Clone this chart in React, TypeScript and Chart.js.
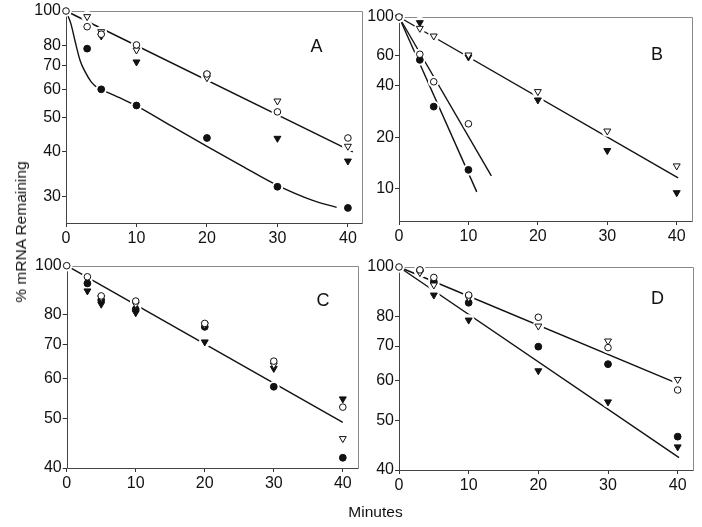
import React, { useEffect, useRef } from "react";
import { Chart, registerables } from "chart.js";

Chart.register(...registerables);

// ---------- data ----------
const times = [0, 3, 5, 10, 20, 30, 40];
const xTicks = [0, 10, 20, 30, 40];

// Panel A
const aTicksY = [100, 80, 70, 60, 50, 40, 30];
const aOpenCircle = [100, 90.3, 86, 80.2, 66.4, 51.9, 43.8];
const aOpenTri = [null, 96.4, 87.4, 77.6, 64.8, 55.7, 41.5];
const aFilledTri = [null, null, 85, 71.8, 66, 43.7, 37.7];
const aFilledCircle = [null, 78.3, 60.1, 54.1, 43.8, 31.9, 27.8];
const aLineUpper = [{ x: 0, y: 100 }, { x: 40.7, y: 40 }];
const aCurveLower = [
  { x: 0, y: 100 }, { x: 0.7, y: 92 }, { x: 1.3, y: 82 }, { x: 2, y: 72.5 },
  { x: 2.7, y: 67.4 }, { x: 3.6, y: 63 }, { x: 4.6, y: 60.5 }, { x: 5, y: 60 },
  { x: 7.5, y: 57 }, { x: 10, y: 54 }, { x: 15, y: 47.3 }, { x: 20, y: 41.5 },
  { x: 25, y: 36.5 }, { x: 30, y: 32.2 }, { x: 35, y: 29.2 }, { x: 38.4, y: 27.9 },
];

// Panel B
const bTicksY = [100, 60, 40, 20, 10];
const bOpenCircle = [100, 60.7, 42, 23.9, null, null, null];
const bFilledCircle = [null, 56.3, 30.1, 12.9, null, null, null];
const bOpenTri = [100, 85.9, 77.5, 60.1, 36.8, 21.7, 13.6];
const bFilledTri = [null, 92.7, null, 58.5, 32.9, 16.7, 9.5];
const bLineTri = [{ x: 0, y: 100 }, { x: 40.2, y: 11.6 }];
const bLineFilledCircle = [{ x: 0, y: 100 }, { x: 11.2, y: 9.6 }];
const bLineOpenCircle = [{ x: 0, y: 100 }, { x: 13.3, y: 11.9 }];

// Panel C
const cTicksY = [100, 80, 70, 60, 50, 40];
const cOpenCircle = [100, 95.1, 87.2, 85.2, 77.0, 64.9, 52.7];
const cOpenTri = [null, null, 86.5, 84, 76.5, 63.8, 45.7];
const cFilledTri = [null, 89.2, 84, 80.8, 70.8, 62.8, 54.7];
const cFilledCircle = [null, 92.3, 85.6, 82.1, 75.8, 57.8, 41.9];
const cLine = [{ x: 0, y: 100 }, { x: 40, y: 49.2 }];

// Panel D
const dTicksY = [100, 80, 70, 60, 50, 40];
const dOpenCircle = [100, 98.7, 95.4, 88.1, 79.7, 69.5, 57.4];
const dOpenTri = [null, 97.5, 92.2, 87, 76.6, 71.6, 60.2];
const dFilledCircle = [null, 98.5, 93.6, 85.1, 69.8, 64.5, 46.5];
const dFilledTri = [null, null, 88.1, 78.7, 62.6, 54.4, 44.4];
const dLineUpper = [{ x: 0, y: 100 }, { x: 39.6, y: 59.4 }];
const dLineLower = [{ x: 0, y: 100 }, { x: 40.2, y: 42.3 }];

// ---------- styles ----------
const FONT = '"Liberation Sans", Arial, Helvetica, sans-serif';

type Kind = "oc" | "ot" | "fc" | "ft";
const markerStyle: Record<Kind, any> = {
  oc: { pointStyle: "circle", pointRadius: 3.3, pointBackgroundColor: "#fff", pointBorderColor: "#111", pointBorderWidth: 1, pointRotation: 0, order: 0 },
  ot: { pointStyle: "triangle", pointRadius: 4, pointBackgroundColor: "#fff", pointBorderColor: "#111", pointBorderWidth: 1, pointRotation: 180, order: 1 },
  fc: { pointStyle: "circle", pointRadius: 3.4, pointBackgroundColor: "#111", pointBorderColor: "#111", pointBorderWidth: 1, pointRotation: 0, order: 2 },
  ft: { pointStyle: "triangle", pointRadius: 4, pointBackgroundColor: "#111", pointBorderColor: "#111", pointBorderWidth: 1, pointRotation: 180, order: 3 },
};

type Panel = {
  key: string;
  left: number; top: number; width: number; height: number;
  yW: number; padTop: number; padRight: number; xH: number;
  yMin: number; yMax: number; xMax: number; yTicks: number[];
  series: { kind: Kind; values: (number | null)[] }[];
  lines: { pts: { x: number; y: number }[]; curved?: boolean }[];
};

const panels: Panel[] = [
  {
    key: "A", left: 20, top: 0, width: 350, height: 250,
    yW: 46, padTop: 11, padRight: 8, xH: 27,
    yMin: 25.2, yMax: 100, xMax: 42, yTicks: aTicksY,
    series: [
      { kind: "ft", values: aFilledTri }, { kind: "fc", values: aFilledCircle },
      { kind: "ot", values: aOpenTri }, { kind: "oc", values: aOpenCircle },
    ],
    lines: [{ pts: aLineUpper }, { pts: aCurveLower, curved: true }],
  },
  {
    key: "B", left: 360, top: 0, width: 342, height: 250,
    yW: 39, padTop: 17, padRight: 10, xH: 29,
    yMin: 6.5, yMax: 100, xMax: 42.2, yTicks: bTicksY,
    series: [
      { kind: "ft", values: bFilledTri }, { kind: "fc", values: bFilledCircle },
      { kind: "ot", values: bOpenTri }, { kind: "oc", values: bOpenCircle },
    ],
    lines: [{ pts: bLineTri }, { pts: bLineFilledCircle }, { pts: bLineOpenCircle }],
  },
  {
    key: "C", left: 20, top: 250, width: 350, height: 250,
    yW: 46.7, padTop: 15.7, padRight: 12, xH: 32,
    yMin: 40, yMax: 100, xMax: 42.2, yTicks: cTicksY,
    series: [
      { kind: "ft", values: cFilledTri }, { kind: "fc", values: cFilledCircle },
      { kind: "ot", values: cOpenTri }, { kind: "oc", values: cOpenCircle },
    ],
    lines: [{ pts: cLine }],
  },
  {
    key: "D", left: 360, top: 250, width: 342, height: 250,
    yW: 39, padTop: 17, padRight: 9, xH: 30,
    yMin: 40, yMax: 100, xMax: 42.2, yTicks: dTicksY,
    series: [
      { kind: "ft", values: dFilledTri }, { kind: "fc", values: dFilledCircle },
      { kind: "ot", values: dOpenTri }, { kind: "oc", values: dOpenCircle },
    ],
    lines: [{ pts: dLineUpper }, { pts: dLineLower }],
  },
];

const framePlugin = {
  id: "frame",
  beforeDatasetsDraw(chart: any) {
    const { ctx, chartArea: a } = chart;
    ctx.save();
    ctx.lineWidth = 1;
    const l = Math.round(a.left) + 0.5;
    const t = Math.round(a.top) + 0.5;
    const r = Math.round(a.right) + 0.5;
    const b = Math.round(a.bottom) + 0.5;
    ctx.strokeStyle = "#8a8a8a";
    ctx.beginPath();
    ctx.moveTo(l, t);
    ctx.lineTo(r, t);
    ctx.lineTo(r, b);
    ctx.stroke();
    ctx.strokeStyle = "#444";
    ctx.beginPath();
    ctx.moveTo(l, t);
    ctx.lineTo(l, b);
    ctx.lineTo(r, b);
    ctx.stroke();
    ctx.restore();
  },
};

function toPoints(values: (number | null)[]) {
  const out: { x: number; y: number }[] = [];
  values.forEach((v, i) => {
    if (v != null) out.push({ x: times[i], y: v });
  });
  return out;
}

function PanelChart({ p }: { p: Panel }) {
  const ref = useRef<HTMLCanvasElement | null>(null);
  useEffect(() => {
    if (!ref.current) return;
    const datasets: any[] = [];
    p.series.forEach((s) => {
      datasets.push({
        data: toPoints(s.values),
        showLine: false,
        clip: false,
        ...markerStyle[s.kind],
      });
    });
    p.series.forEach((s) => {
      datasets.push({
        data: toPoints(s.values),
        showLine: false,
        clip: false,
        pointStyle: "circle",
        pointRadius: 5.8,
        pointBackgroundColor: "#fff",
        pointBorderWidth: 0,
        order: 10,
      });
    });
    p.lines.forEach((ln) => {
      datasets.push({
        data: ln.pts,
        showLine: true,
        clip: false,
        borderColor: "#111",
        borderWidth: 1.4,
        pointRadius: 0,
        tension: ln.curved ? 0.4 : 0,
        cubicInterpolationMode: ln.curved ? "monotone" : "default",
        order: 20,
      });
    });
    const chart = new Chart(ref.current, {
      type: "scatter",
      data: { datasets },
      options: {
        animation: false,
        responsive: false,
        events: [],
        layout: { padding: { top: p.padTop, right: p.padRight, left: 0, bottom: 0 } },
        plugins: { legend: { display: false }, tooltip: { enabled: false } },
        scales: {
          x: {
            type: "linear",
            min: 0,
            max: p.xMax,
            border: { display: false },
            grid: { drawOnChartArea: false, drawTicks: true, tickLength: 4, tickColor: "#333" },
            ticks: { color: "#111", font: { family: FONT, size: 16 }, padding: 2, maxRotation: 0, callback: (v: any) => String(v) },
            afterBuildTicks: (s: any) => { s.ticks = xTicks.map((v) => ({ value: v })); },
            afterFit: (s: any) => { s.height = p.xH; },
          },
          y: {
            type: "logarithmic",
            min: p.yMin,
            max: p.yMax,
            border: { display: false },
            grid: { drawOnChartArea: false, drawTicks: true, tickLength: 4, tickColor: "#333" },
            ticks: { color: "#111", font: { family: FONT, size: 16 }, padding: 1, callback: (v: any) => String(v) },
            afterBuildTicks: (s: any) => { s.ticks = p.yTicks.map((v) => ({ value: v })); },
            afterFit: (s: any) => { s.width = p.yW; },
          },
        },
      } as any,
      plugins: [framePlugin],
    });
    return () => chart.destroy();
  }, [p]);
  return (
    <canvas
      ref={ref}
      width={p.width}
      height={p.height}
      style={{ position: "absolute", left: p.left, top: p.top, width: p.width, height: p.height }}
    />
  );
}

const letterPos: Record<string, { x: number; y: number }> = {
  A: { x: 316.5, y: 46 },
  B: { x: 657, y: 54 },
  C: { x: 323, y: 300 },
  D: { x: 657.5, y: 298 },
};

export default function App() {
  return (
    <div style={{ position: "fixed", left: 0, top: 0, width: 702, height: 527, background: "#fff", fontFamily: FONT, color: "#111" }}>
      {panels.map((p) => (
        <PanelChart key={p.key} p={p} />
      ))}
      {panels.map((p) => (
        <div
          key={"l" + p.key}
          style={{
            position: "absolute",
            left: letterPos[p.key].x,
            top: letterPos[p.key].y,
            transform: "translate(-50%, -50%)",
            fontSize: 18,
            lineHeight: "18px",
          }}
        >
          {p.key}
        </div>
      ))}
      <div
        style={{
          position: "absolute",
          left: 21,
          top: 232,
          transform: "translate(-50%, -50%) rotate(-90deg)",
          fontSize: 15.5,
          whiteSpace: "nowrap",
          lineHeight: "16px",
        }}
      >
        % mRNA Remaining
      </div>
      <div
        style={{
          position: "absolute",
          left: 375.5,
          top: 512,
          transform: "translate(-50%, -50%)",
          fontSize: 15.5,
          whiteSpace: "nowrap",
          lineHeight: "16px",
        }}
      >
        Minutes
      </div>
    </div>
  );
}
